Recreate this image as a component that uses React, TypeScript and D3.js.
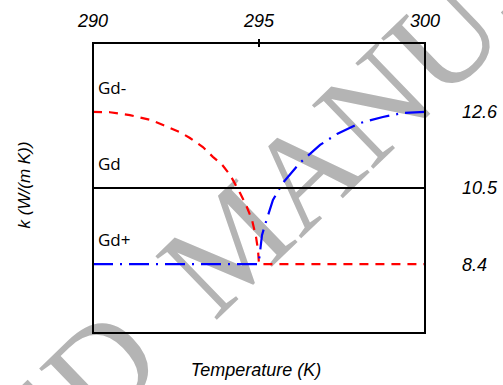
import * as d3 from "d3";

const svg_width = 503;
const svg_height = 385;

// plot box in pixels
const left = 93;
const right = 425;
const top = 43;
const bottom = 333;

const t_domain = [290, 300];
const k_domain = [6.5, 14.5];

const tempTicks = [290, 295, 300];
const kTicks = [12.6, 10.5, 8.4];
const gdK = 10.5;

// Gd- (red dashed)
const gdMinusT = [290, 290.51, 291.11, 291.72, 292.11, 292.62, 292.92, 293.31, 293.61, 293.89, 294.13, 294.43, 294.61, 294.79, 294.91, 294.97, 295.0, 300];
const gdMinusK = [12.6, 12.59, 12.51, 12.38, 12.24, 12.04, 11.88, 11.63, 11.36, 11.14, 10.86, 10.36, 10.03, 9.62, 9.15, 8.79, 8.4, 8.4];

// Gd+ (blue dash-dot)
const gdPlusT = [290, 294.97, 295.0, 295.09, 295.18, 295.42, 295.72, 296.23, 296.84, 297.35, 298.04, 298.73, 299.34, 300];
const gdPlusK = [8.4, 8.4, 8.5, 9.2, 9.48, 10.17, 10.64, 11.19, 11.69, 11.99, 12.29, 12.46, 12.57, 12.6];

const labels = [
    { text: "Gd-", k: 13.1 },
    { text: "Gd", k: 10.99 },
    { text: "Gd+", k: 8.9 },
];

export default function App() {
    const x = d3.scaleLinear().domain(t_domain).range([left, right]);
    const y = d3.scaleLinear().domain(k_domain).range([bottom, top]);

    const line = d3.line<[number, number]>()
        .x((d) => x(d[0]))
        .y((d) => y(d[1]));

    const redPath = line(gdMinusT.map((t, i) => [t, gdMinusK[i]]));
    const bluePath = line(gdPlusT.map((t, i) => [t, gdPlusK[i]]));

    const sans = "'Liberation Sans', Arial, sans-serif";
    const serif = "'Liberation Serif', serif";

    return (
        <svg width={svg_width} height={svg_height}
            style={{ position: "absolute", left: 0, top: 0, background: "white" }}>
            {/* watermark */}
            <g transform="translate(233, 243) rotate(-44)" fontFamily={serif} fontSize={135} fill="#b4b4b4">
                <text x={-133} y={44} textAnchor="end">ACCEPTED</text>
                <text x={-69} y={44} textAnchor="start">MANUSCRIPT</text>
            </g>

            <path d={redPath ?? ""} fill="none" stroke="#ff0000" strokeWidth={2.2} strokeDasharray="9,7" />
            <path d={bluePath ?? ""} fill="none" stroke="#0000ff" strokeWidth={2.2} strokeDasharray="20,7,2,7" />
            <line x1={left} x2={right} y1={y(gdK)} y2={y(gdK)} stroke="black" strokeWidth={2} />

            <rect x={left} y={top} width={right - left} height={bottom - top}
                fill="none" stroke="black" strokeWidth={2} />
            <line x1={x(295)} x2={x(295)} y1={top - 4} y2={top + 4} stroke="black" strokeWidth={2} />

            {tempTicks.map((t) => (
                <text key={t} x={x(t)} y={27} textAnchor="middle" fontFamily={sans}
                    fontStyle="italic" fontSize={18}>{t}</text>
            ))}
            {kTicks.map((k) => (
                <text key={k} x={462} y={y(k)} dy="0.36em" fontFamily={sans}
                    fontStyle="italic" fontSize={18}>{k}</text>
            ))}
            {labels.map((l) => (
                <text key={l.text} x={98} y={y(l.k)} fontFamily="'Open Sans', sans-serif"
                    fontSize={17}>{l.text}</text>
            ))}

            <text x={256} y={376} textAnchor="middle" fontFamily={sans} fontStyle="italic"
                fontSize={18}>Temperature (K)</text>
            <text transform="translate(30, 185) rotate(-90)" textAnchor="middle" fontFamily={sans}
                fontStyle="italic" fontSize={17}>k (W/(m K))</text>
        </svg>
    );
}
